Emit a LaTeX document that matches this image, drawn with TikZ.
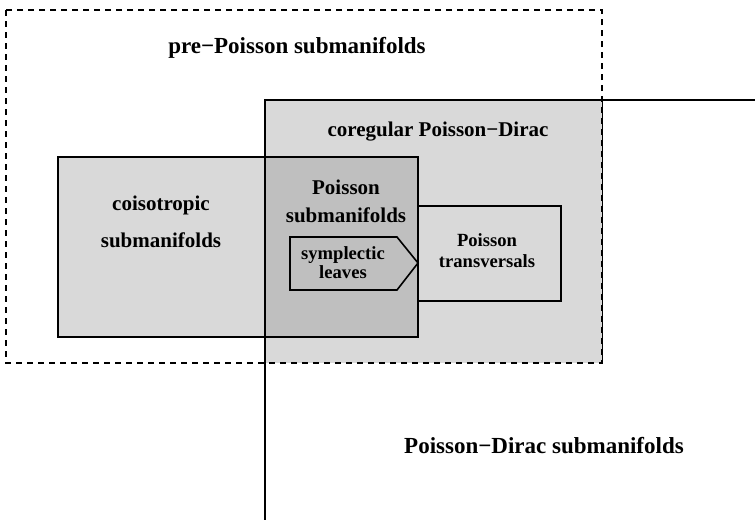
\documentclass[tikz,border=0pt]{standalone}
\usepackage{fontspec}
\setmainfont{Liberation Serif}
\usetikzlibrary{fit,positioning}
\definecolor{lightfill}{gray}{0.85}
\definecolor{darkfill}{gray}{0.75}
\tikzset{
  region/.style={draw=black,line width=0.8pt,inner sep=0pt},
  lightbox/.style={region,fill=lightfill},
  darkbox/.style={region,fill=darkfill},
  outerbox/.style={draw=black,line width=0.8pt,dash pattern=on 3pt off 2.5pt},
  edge/.style={draw=black,line width=0.8pt},
  biglab/.style={font=\fontsize{11.5}{13}\selectfont\bfseries,align=center,inner sep=0pt},
  midlab/.style={font=\fontsize{10.5}{14}\selectfont\bfseries,align=center,inner sep=0pt},
  smalllab/.style={font=\fontsize{9.3}{10.5}\selectfont\bfseries,align=center,inner sep=0pt}
}

\begin{document}
\begin{tikzpicture}[x=0.5pt,y=-0.5pt]
  \useasboundingbox (0,0) rectangle (755,520);
  % corner of the Poisson-Dirac quadrant
  \coordinate (pdcorner) at (265,100);
  \coordinate (pdright) at (755,100);
  \coordinate (pddown) at (265,520);
  % regions
  \node[fill=lightfill,inner sep=0pt,fit={(265,100)(602,363)}] (coreg) {};
  \draw[edge] (coreg.north east) -- (coreg.south east);
  \node[lightbox,fit={(58,157)(418,337)}] (coiso) {};
  \node[darkbox,fit={(265,157)(418,337)}] (poisson) {};
  \node[lightbox,fit={(418,206)(561,301)}] (transv) {};
  \draw[edge] (290,237) -- (397,237) -- (418,263) -- (397,290) -- (290,290) -- cycle;
  \draw[edge] (pdright) -- (pdcorner) -- (pddown);
  \draw[outerbox] (6,10) rectangle (602,363);
  % labels
  \node[biglab,anchor=base] (prelab) at (297,53) {pre−Poisson submanifolds};
  \node[midlab,anchor=base] (coreglab) at (438,136) {coregular Poisson−Dirac};
  \node[midlab,font=\fontsize{10.5}{18.5}\selectfont\bfseries] (coisolab) at (161,222)
    {coisotropic\\submanifolds};
  \node[midlab] (poissonlab) at (346,201) {Poisson\\submanifolds};
  \node[smalllab,font=\fontsize{9.3}{9.5}\selectfont\bfseries] (leaveslab) at (343,263)
    {symplectic\\leaves};
  \node[smalllab] (transvlab) at (487,251) {Poisson\\transversals};
  \node[biglab,anchor=base] (pdlab) at (544,453) {Poisson−Dirac submanifolds};
\end{tikzpicture}
\end{document}
